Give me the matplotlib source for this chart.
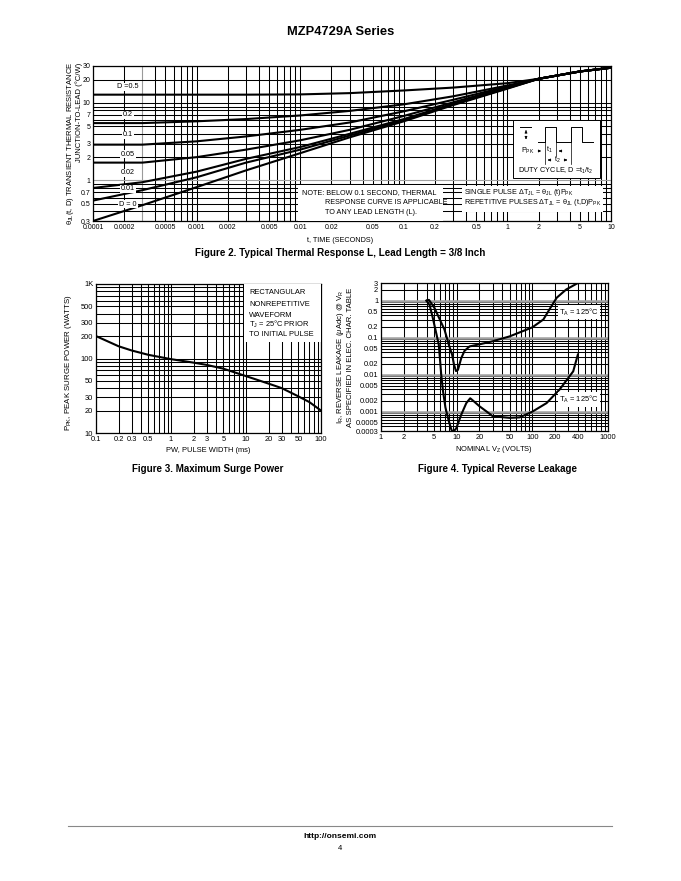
import numpy as np
import matplotlib
matplotlib.use('Agg')
import matplotlib.pyplot as plt
from matplotlib.patches import Rectangle, FancyArrowPatch
from matplotlib.lines import Line2D
from matplotlib.ticker import FixedLocator, FixedFormatter, NullLocator

FONT = ['Liberation Sans', 'DejaVu Sans']
plt.rcParams['font.family'] = FONT
plt.rcParams['mathtext.fontset'] = 'custom'
plt.rcParams['mathtext.rm'] = 'Liberation Sans'
plt.rcParams['mathtext.it'] = 'Liberation Sans:italic'
plt.rcParams['mathtext.bf'] = 'Liberation Sans:bold'

# ---------------- Figure 2 data: thermal response ----------------
t_points = [1e-4, 3e-4, 1e-3, 3e-3, 1e-2, 3e-2, 0.1, 0.3, 1, 2, 5, 10]
theta_d05 = [12.8, 12.8, 12.8, 12.8, 12.9, 13.4, 14.5, 15.8, 18.0, 20.5, 25.5, 28.5]
theta_d02 = [5.5, 5.5, 5.8, 6.2, 6.9, 7.9, 9.6, 12.2, 16.8, 20.5, 25.5, 28.5]
theta_d01 = [2.9, 2.9, 3.2, 3.7, 4.5, 5.6, 7.8, 11.0, 16.3, 20.5, 25.5, 28.5]
theta_d005 = [1.7, 1.7, 2.0, 2.5, 3.3, 4.5, 6.8, 10.2, 16.0, 20.5, 25.5, 28.5]
theta_d002 = [0.8, 0.95, 1.3, 1.9, 2.7, 4.0, 6.2, 9.8, 15.7, 20.5, 25.5, 28.5]
theta_d001 = [0.55, 0.75, 1.1, 1.7, 2.5, 3.8, 6.0, 9.6, 15.5, 20.5, 25.5, 28.5]
theta_d0 = [0.3, 0.48, 0.82, 1.35, 2.25, 3.6, 5.8, 9.4, 15.3, 20.5, 25.5, 28.5]
duty_labels = ['D =0.5', '0.2', '0.1', '0.05', '0.02', '0.01', 'D = 0']

f2_xticks = [1e-4, 2e-4, 5e-4, 1e-3, 2e-3, 5e-3, 0.01, 0.02, 0.05, 0.1, 0.2, 0.5, 1, 2, 5, 10]
f2_xlabels = ['0.0001', '0.0002', '0.0005', '0.001', '0.002', '0.005', '0.01', '0.02',
              '0.05', '0.1', '0.2', '0.5', '1', '2', '5', '10']
f2_yticks = [30, 20, 10, 7, 5, 3, 2, 1, 0.7, 0.5, 0.3]
f2_ylabels = ['30', '20', '10', '7', '5', '3', '2', '1', '0.7', '0.5', '0.3']

# ---------------- Figure 3 data: surge power ----------------
pw_ms = [0.1, 0.2, 0.3, 0.5, 1, 2, 3, 5, 10, 20, 30, 50, 70, 100]
ppk_w = [200, 146, 128, 112, 98, 88, 82, 73, 58, 46, 40, 31, 26, 20]
f3_xticks = [0.1, 0.2, 0.3, 0.5, 1, 2, 3, 5, 10, 20, 30, 50, 100]
f3_xlabels = ['0.1', '0.2', '0.3', '0.5', '1', '2', '3', '5', '10', '20', '30', '50', '100']
f3_yticks = [1000, 500, 300, 200, 100, 50, 30, 20, 10]
f3_ylabels = ['1K', '500', '300', '200', '100', '50', '30', '20', '10']

# ---------------- Figure 4 data: reverse leakage ----------------
vz_upper = [4.0, 4.3, 5.1, 6.9, 8.0, 8.7, 9.2, 9.8, 10.4, 11.5, 12.7, 14.8, 20, 30, 50,
            100, 140, 170, 210, 280, 400]
ir_upper = [1.0, 1.05, 0.63, 0.165, 0.058, 0.035, 0.019, 0.0125, 0.0135, 0.028, 0.044,
            0.058, 0.066, 0.08, 0.108, 0.19, 0.31, 0.6, 1.2, 2.0, 3.0]
vz_lower = [4.0, 4.4, 4.84, 5.36, 5.8, 6.05, 6.25, 6.6, 7.1, 7.9, 8.5, 8.9, 9.85, 11.5,
            13.4, 15.1, 16.4, 20, 25, 30, 50, 68, 100, 154, 230, 347, 400]
ir_lower = [1.0, 0.75, 0.34, 0.134, 0.065, 0.023, 0.01, 0.0036, 0.0013, 0.00054, 0.00033,
            0.00028, 0.00035, 0.00083, 0.0017, 0.0023, 0.002, 0.0014, 0.001, 0.00075,
            0.00068, 0.0007, 0.001, 0.0017, 0.004, 0.0123, 0.035]
f4_xticks = [1, 2, 5, 10, 20, 50, 100, 200, 400, 1000]
f4_xlabels = ['1', '2', '5', '10', '20', '50', '100', '200', '400', '1000']
f4_yticks = [3, 2, 1, 0.5, 0.2, 0.1, 0.05, 0.02, 0.01, 0.005, 0.002, 0.001, 0.0005, 0.0003]
f4_ylabels = ['3', '2', '1', '0.5', '0.2', '0.1', '0.05', '0.02', '0.01', '0.005', '0.002',
              '0.001', '0.0005', '0.0003']

# ---------------- layout helpers ----------------
W, H = 681, 881
fig = plt.figure(figsize=(W / 100, H / 100), dpi=100)


def rect(l, t, r, b):
    return [l / W, 1 - b / H, (r - l) / W, (b - t) / H]


def ftext(x, y, s, **kw):
    kw.setdefault('ha', 'center')
    kw.setdefault('va', 'center')
    kw.setdefault('fontsize', 5.2)
    return fig.text(x / W, 1 - y / H, s, **kw)


def fline(xs, ys, lw=0.8, color='black'):
    fig.add_artist(Line2D([x / W for x in xs], [1 - y / H for y in ys],
                          lw=lw, color=color, transform=fig.transFigure, zorder=10))


def farrow(x0, y0, x1, y1):
    fig.add_artist(FancyArrowPatch((x0 / W, 1 - y0 / H), (x1 / W, 1 - y1 / H),
                                   arrowstyle='-|>', mutation_scale=3.5, lw=0.6,
                                   color='black', transform=fig.transFigure, zorder=10))


def log_positions(lo, hi):
    vals = []
    e0, e1 = int(np.floor(np.log10(lo))), int(np.ceil(np.log10(hi)))
    for e in range(e0, e1 + 1):
        for m in range(1, 10):
            v = m * 10.0 ** e
            if lo * 0.999 <= v <= hi * 1.001:
                vals.append(v)
    return vals


def setup_axis(ax, xlim, ylim, xt, xl, yt, yl, gray_x=(), gray_y=(), gray_lw=0.8,
               labelsize=5.0):
    ax.set_xscale('log')
    ax.set_yscale('log')
    ax.set_xlim(*xlim)
    ax.set_ylim(*ylim)
    ax.xaxis.set_major_locator(FixedLocator(xt))
    ax.xaxis.set_major_formatter(FixedFormatter(xl))
    ax.yaxis.set_major_locator(FixedLocator(yt))
    ax.yaxis.set_major_formatter(FixedFormatter(yl))
    ax.xaxis.set_minor_locator(NullLocator())
    ax.yaxis.set_minor_locator(NullLocator())
    ax.tick_params(length=0, labelsize=labelsize, pad=2)
    for s in ax.spines.values():
        s.set_linewidth(0.9)
    for v in log_positions(*xlim):
        g = any(abs(v - q) / q < 1e-6 for q in gray_x)
        ax.axvline(v, color='#9a9a9a' if g else 'black', lw=gray_lw if g else 0.75, zorder=1)
    for v in log_positions(*ylim):
        g = any(abs(v - q) / q < 1e-6 for q in gray_y)
        ax.axhline(v, color='#a0a0a0' if g else 'black', lw=gray_lw if g else 0.75, zorder=1)


# ---------------- Page header / footer ----------------
ftext(341, 32, 'MZP4729A Series', fontsize=9.3, fontweight='bold')
fline([68, 612], [826, 826], lw=0.8, color='#888888')
ftext(340, 836, 'http://onsemi.com', fontsize=6, fontweight='bold')
ftext(340, 848, '4', fontsize=5.5)

# ---------------- Figure 2 ----------------
ax1 = fig.add_axes(rect(93, 66, 611, 221))
setup_axis(ax1, (1e-4, 10), (0.3, 30), f2_xticks, f2_xlabels, f2_yticks, f2_ylabels,
           gray_x=(3e-4,), gray_y=(1,))
series2 = [theta_d05, theta_d02, theta_d01, theta_d005, theta_d002, theta_d001, theta_d0]
for ser in series2:
    ax1.plot(t_points, ser, color='black', lw=1.5, zorder=4, solid_capstyle='butt')

lab_y = [87, 115, 135, 154, 173, 189, 204]
for txt, yy in zip(duty_labels, lab_y):
    ax1.text((128 - 93) / 518, (221 - yy) / 155, txt, transform=ax1.transAxes,
             fontsize=5.2, ha='center', va='center', zorder=5,
             bbox=dict(facecolor='white', edgecolor='none', pad=0.6))


def ax1_rect(l, t, r, b, **kw):
    ax1.add_patch(Rectangle(((l - 93) / 518, (221 - b) / 155), (r - l) / 518, (b - t) / 155,
                            transform=ax1.transAxes, zorder=3, clip_on=False, **kw))


ax1_rect(298, 185, 443, 220.5, facecolor='white', edgecolor='none')
ax1_rect(462, 186, 603, 212, facecolor='white', edgecolor='none')
ax1_rect(512.5, 120, 600, 177.5, facecolor='white', edgecolor='black', lw=0.7)

ftext(302, 192.5, 'NOTE: BELOW 0.1 SECOND, THERMAL', ha='left')
ftext(325, 202.5, 'RESPONSE CURVE IS APPLICABLE', ha='left')
ftext(325, 212.5, 'TO ANY LEAD LENGTH (L).', ha='left')
ftext(464, 193, r'SINGLE PULSE $\Delta$T$_{\mathregular{JL}}$ = θ$_{\mathregular{JL}}$ (t)P$_{\mathregular{PK}}$', ha='left')
ftext(464, 203, r'REPETITIVE PULSES $\Delta$T$_{\mathregular{JL}}$ = θ$_{\mathregular{JL}}$ (t,D)P$_{\mathregular{PK}}$', ha='left')

# duty-cycle waveform sketch
fline([538, 544.5, 544.5, 555.5, 555.5, 570.5, 570.5, 581.5, 581.5, 593],
      [142, 142, 127, 127, 142, 142, 127, 127, 142, 142], lw=0.7)
fline([520, 531], [127, 127], lw=0.7)
farrow(526, 134, 526, 127.5)
farrow(526, 135, 526, 142)
fline([544.5, 544.5], [142, 164], lw=0.5)
fline([555.5, 555.5], [142, 156], lw=0.5)
fline([570.5, 570.5], [142, 164], lw=0.5)
ftext(521, 151, r'P$_{\mathregular{PK}}$', ha='left', fontsize=5.2)
farrow(536, 151, 544, 151)
ftext(549.5, 150, r't$_{\mathregular{1}}$', fontsize=5.2)
farrow(563, 151, 556, 151)
farrow(552, 160, 545, 160)
ftext(557.5, 160, r't$_{\mathregular{2}}$', fontsize=5.2)
farrow(563, 160, 570, 160)
ftext(556, 170.5, r'DUTY CYCLE, D =t$_{\mathregular{1}}$/t$_{\mathregular{2}}$', fontsize=5.2)

ftext(70, 143, r'θ$_{\mathregular{JL}}$(t, D) TRANSIENT THERMAL RESISTANCE', rotation=90, fontsize=5.5)
ftext(79, 112, 'JUNCTION-TO-LEAD (°C/W)', rotation=90, fontsize=5.5)
ftext(340, 240, 't, TIME (SECONDS)', fontsize=5.2)
ftext(340, 253.5, 'Figure 2. Typical Thermal Response L, Lead Length = 3/8 Inch',
      fontsize=7.1, fontweight='bold')

# ---------------- Figure 3 ----------------
ax3 = fig.add_axes(rect(96, 284, 321, 433))
setup_axis(ax3, (0.1, 100), (10, 1000), f3_xticks, f3_xlabels, f3_yticks, f3_ylabels,
           labelsize=5.4)
ax3.plot(pw_ms, ppk_w, color='black', lw=1.5, zorder=4)
ax3.add_patch(Rectangle(((244 - 96) / 225, (433 - 342) / 149), (321 - 244) / 225, (342 - 284) / 149,
                        transform=ax3.transAxes, facecolor='white', edgecolor='none', zorder=3))
for txt, yy in zip(['RECTANGULAR', 'NONREPETITIVE', 'WAVEFORM',
                    r'T$_{\mathregular{J}}$ = 25°C PRIOR', 'TO INITIAL PULSE'],
                   [292, 304, 315.5, 324, 335]):
    ftext(249, yy, txt, ha='left', fontsize=5.4)
ftext(69, 363, r'P$_{\mathregular{PK}}$, PEAK SURGE POWER (WATTS)', rotation=90, fontsize=5.7)
ftext(208, 451, 'PW, PULSE WIDTH (ms)', fontsize=5.4)
ftext(208, 469.5, 'Figure 3. Maximum Surge Power', fontsize=7.0, fontweight='bold')

# ---------------- Figure 4 ----------------
ax4 = fig.add_axes(rect(381, 283, 608, 431))
setup_axis(ax4, (1, 1000), (0.0003, 3), f4_xticks, f4_xlabels, f4_yticks, f4_ylabels,
           gray_y=(1, 0.1, 0.01, 0.001), gray_lw=1.8, labelsize=5.4)
ax4.plot(vz_upper, ir_upper, color='black', lw=1.5, zorder=4)
ax4.plot(vz_lower, ir_lower, color='black', lw=1.5, zorder=4)
for yy in (312, 399.5):
    ax4.text((579 - 381) / 227, (431 - yy) / 148, r'T$_{\mathregular{A}}$ = 125°C',
             transform=ax4.transAxes, fontsize=5.4, ha='center', va='center', zorder=5,
             bbox=dict(facecolor='white', edgecolor='none', pad=1.2))
ftext(341, 357, r'I$_{\mathregular{R}}$, REVERSE LEAKAGE ($\mu$Adc) @ V$_{\mathregular{R}}$',
      rotation=90, fontsize=5.6)
ftext(350.5, 357, 'AS SPECIFIED IN ELEC. CHAR. TABLE', rotation=90, fontsize=5.6)
ftext(494, 449.5, r'NOMINAL V$_{\mathregular{Z}}$ (VOLTS)', fontsize=5.4)
ftext(497, 469.5, 'Figure 4. Typical Reverse Leakage', fontsize=7.0, fontweight='bold')

fig.savefig('out.png', dpi=100)
